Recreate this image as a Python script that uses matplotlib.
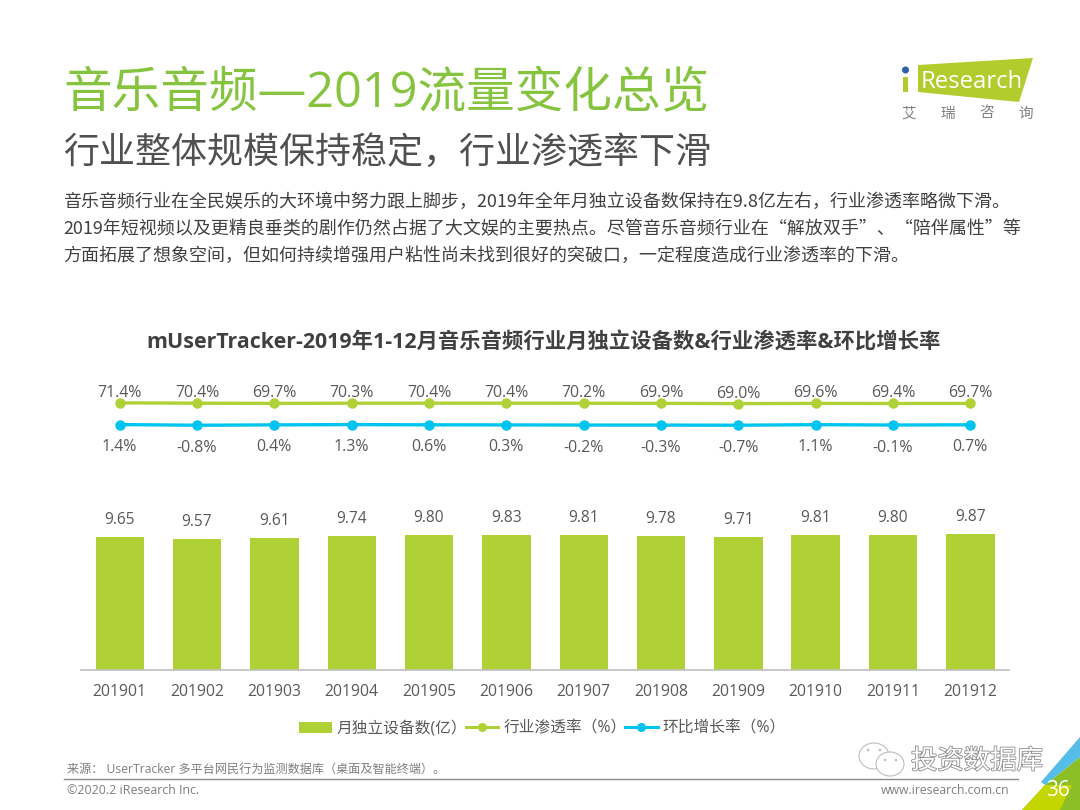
import matplotlib
matplotlib.use("Agg")
import matplotlib.pyplot as plt
import matplotlib.patheffects as pe
from matplotlib.patches import Polygon, Circle, Ellipse, Patch
from matplotlib.lines import Line2D

FONT = ['Open Sans', 'Noto Sans CJK SC', 'DejaVu Sans']
CJK_FIRST = ['Noto Sans CJK SC', 'DejaVu Sans']
plt.rcParams['font.family'] = FONT

months = ['201901', '201902', '201903', '201904', '201905', '201906',
          '201907', '201908', '201909', '201910', '201911', '201912']
devices = [9.65, 9.57, 9.61, 9.74, 9.80, 9.83, 9.81, 9.78, 9.71, 9.81, 9.80, 9.87]
penetration = [71.4, 70.4, 69.7, 70.3, 70.4, 70.4, 70.2, 69.9, 69.0, 69.6, 69.4, 69.7]
growth = [1.4, -0.8, 0.4, 1.3, 0.6, 0.3, -0.2, -0.3, -0.7, 1.1, -0.1, 0.7]

title_text = '音乐音频—2019流量变化总览'
subtitle_text = '行业整体规模保持稳定\uff0c行业渗透率下滑'
body_lines = [
    '音乐音频行业在全民娱乐的大环境中努力跟上脚步\uff0c2019年全年月独立设备数保持在9.8亿左右\uff0c行业渗透率略微下滑。',
    '2019年短视频以及更精良垂类的剧作仍然占据了大文娱的主要热点。尽管音乐音频行业在“解放双手”、“陪伴属性”等',
    '方面拓展了想象空间\uff0c但如何持续增强用户粘性尚未找到很好的突破口\uff0c一定程度造成行业渗透率的下滑。',
]
chart_title = 'mUserTracker-2019年1-12月音乐音频行业月独立设备数&行业渗透率&环比增长率'
legend_labels = ['月独立设备数(亿\uff09', '行业渗透率\uff08%\uff09', '环比增长率\uff08%\uff09']
source_text = '来源\uff1a UserTracker 多平台网民行为监测数据库\uff08桌面及智能终端\uff09。'

W, H = 1080, 810
GREEN = '#AFD135'
BLUE = '#00C4F0'
TEXT = '#595959'

fig = plt.figure(figsize=(W / 100, H / 100), dpi=100, facecolor='white')


def axes_px(left, top, right, bottom):
    return fig.add_axes([left / W, 1 - bottom / H, (right - left) / W, (bottom - top) / H])


# page layer in pixel coordinates
page = fig.add_axes([0, 0, 1, 1], zorder=0)
page.set_xlim(0, W)
page.set_ylim(H, 0)
page.axis('off')

page.text(63, 94, title_text, fontsize=35, color='#86C440', va='center', ha='left')
page.text(63, 154, subtitle_text, fontsize=25.9, color='#505050', va='center', ha='left')
for y, line in zip([202, 229, 256], body_lines):
    page.text(63, y, line, fontsize=12.95, color='#404040', va='center', ha='left', family=CJK_FIRST)
page.text(544, 343, chart_title, fontsize=15.4, fontweight='bold', color='#404040', va='center', ha='center')

# logo
page.add_patch(Polygon([[918, 65], [1033, 58], [1019, 102], [918, 92]], closed=True, fc='#B2CC2E', ec='none'))
page.add_patch(Polygon([[903, 77], [908, 77], [908, 92], [903, 92]], closed=True, fc='#B2CC2E', ec='none'))
page.add_patch(Circle((905.5, 70), 3.5, fc='#2F5FA8', ec='none'))
page.text(921, 82, 'Research', fontsize=17.2, color='white', va='center', ha='left')
for x, ch in zip([909, 948, 987, 1026], '艾瑞咨询'):
    page.text(x, 114, ch, fontsize=10.5, color='#808080', va='center', ha='center')

# footer
page.plot([64, 1018], [778.5, 778.5], color='#8C8C8C', lw=1)
page.text(67, 769, source_text, fontsize=8.7, color='#7F7F7F', va='center', ha='left')
page.text(67, 791, '©2020.2 iResearch Inc.', fontsize=8.9, color='#7F7F7F', va='center', ha='left')
page.text(1009, 791, 'www.iresearch.com.cn', fontsize=8.8, color='#7F7F7F', va='center', ha='right')

# corner decoration
page.add_patch(Polygon([[1045, 785], [1080, 757], [1080, 810], [1022, 810]], closed=True, fc='#8CBF26', ec='none'))
page.add_patch(Polygon([[1045, 785], [1072, 785], [1060, 810], [1022, 810]], closed=True, fc='#C4D600', ec='none'))
page.add_patch(Polygon([[1041, 782], [1080, 737], [1080, 757], [1045, 785]], closed=True, fc='#55BDE8', ec='none'))
page.text(1058, 790, '36', fontsize=15, color='white', va='center', ha='center')

# watermark
for (cx, cy, w, h) in [(874, 756, 30, 26), (890, 764, 28, 24)]:
    page.add_patch(Ellipse((cx, cy), w, h, fc='white', ec='#BDBDBD', lw=0.8))
for (cx, cy) in [(868, 750), (880, 750), (885, 760), (896, 760)]:
    page.add_patch(Circle((cx, cy), 1.3, fc='#BDBDBD', ec='none'))
page.text(911, 762, '投资数据库', fontsize=19, color='white', va='center', ha='left',
          path_effects=[pe.withStroke(linewidth=1.2, foreground='#8C8C8C')])

# bars
ax = axes_px(81, 500, 1009, 670)
ax.patch.set_alpha(0)
xs = list(range(len(months)))
ax.bar(xs, devices, width=0.625, color=GREEN)
ax.set_xlim(-0.5, 11.5)
ax.set_ylim(0, 12.38)
ax.set_yticks([])
ax.set_xticks(xs)
ax.set_xticklabels(months, fontsize=11.3, color=TEXT)
ax.tick_params(axis='x', length=0, pad=10)
for s in ['top', 'left', 'right']:
    ax.spines[s].set_visible(False)
ax.spines['bottom'].set_color('#BFBFBF')
ax.spines['bottom'].set_linewidth(1.2)
for x, v in zip(xs, devices):
    ax.annotate(f'{v:.2f}', (x, v), xytext=(0, 6.5), textcoords='offset points',
                ha='center', va='bottom', fontsize=11.2, color=TEXT)

# lines share one value axis
lx = axes_px(81, 385, 1009, 460)
lx.patch.set_alpha(0)
lx.plot(xs, penetration, color=GREEN, lw=2.4, marker='o', ms=6.5)
lx.plot(xs, growth, color=BLUE, lw=2.4, marker='o', ms=6.5)
lx.set_xlim(-0.5, 11.5)
lx.set_ylim((425 - 460) / 0.31, (425 - 385) / 0.31)
lx.axis('off')
for x, v in zip(xs, penetration):
    lx.annotate(f'{v:.1f}%', (x, v), xytext=(0, 1.5), textcoords='offset points',
                ha='center', va='bottom', fontsize=11.4, color=TEXT)
for x, v in zip(xs, growth):
    lx.annotate(f'{v:.1f}%', (x, v), xytext=(0, -10.5), textcoords='offset points',
                ha='center', va='top', fontsize=11.4, color=TEXT)

# legend
handles = [
    Patch(fc=GREEN, ec='none'),
    Line2D([], [], color=GREEN, lw=2.2, marker='o', ms=5.5),
    Line2D([], [], color=BLUE, lw=2.2, marker='o', ms=5.5),
]
fig.legend(handles, legend_labels, loc='center', bbox_to_anchor=(542.5 / W, 1 - 728.5 / H), ncol=3,
           frameon=False, fontsize=11.3, labelcolor=TEXT, handlelength=2.08, handleheight=0.7,
           handletextpad=0.32, columnspacing=-0.1, borderpad=0)

fig.savefig('out.png', dpi=100)
